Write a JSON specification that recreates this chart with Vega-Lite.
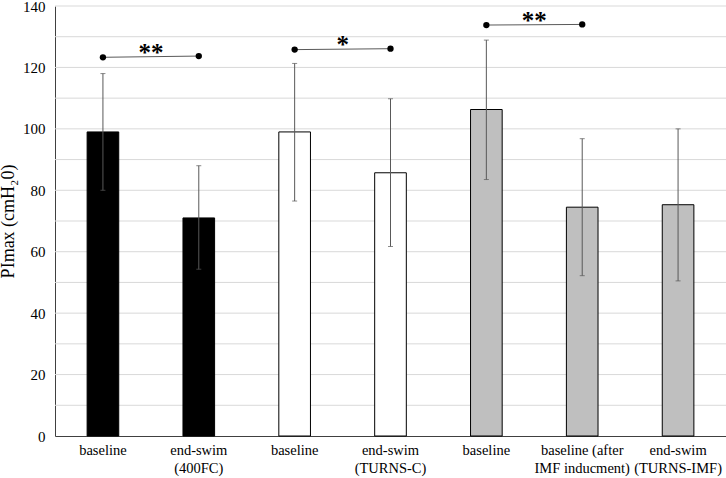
{
  "$schema": "https://vega.github.io/schema/vega-lite/v6.json",
  "width": 671,
  "height": 430,
  "autosize": "none",
  "padding": {"left": 55, "top": 6, "right": 0, "bottom": 42},
  "background": "white",
  "config": {
    "font": "Liberation Serif",
    "view": {"stroke": null},
    "axis": {"labelFont": "Liberation Serif", "titleFont": "Liberation Serif", "labelColor": "#000", "titleColor": "#000"},
    "axisQuantitative": {"tickCount": 14, "labelOverlap": false, "labelSeparation": 0}
  },
  "datasets": {
    "bars": [
      {"cat": "1:baseline", "grp": "400FC", "mean": 99, "lo": 80, "hi": 118},
      {"cat": "2:end-swim|(400FC)", "grp": "400FC", "mean": 71, "lo": 54.3, "hi": 88},
      {"cat": "3:baseline", "grp": "TURNS-C", "mean": 99, "lo": 76.5, "hi": 121.3},
      {"cat": "4:end-swim|(TURNS-C)", "grp": "TURNS-C", "mean": 85.7, "lo": 61.7, "hi": 109.8},
      {"cat": "5:baseline", "grp": "TURNS-IMF", "mean": 106.3, "lo": 83.5, "hi": 128.9},
      {"cat": "6:baseline (after|IMF inducment)", "grp": "TURNS-IMF", "mean": 74.5, "lo": 52.2, "hi": 96.8},
      {"cat": "7:end-swim|(TURNS-IMF)", "grp": "TURNS-IMF", "mean": 75.3, "lo": 50.5, "hi": 100}
    ],
    "sig": [
      {"pair": "a", "cat": "1:baseline", "y": 123.3},
      {"pair": "a", "cat": "2:end-swim|(400FC)", "y": 123.7},
      {"pair": "b", "cat": "3:baseline", "y": 125.8},
      {"pair": "b", "cat": "4:end-swim|(TURNS-C)", "y": 126.1},
      {"pair": "c", "cat": "5:baseline", "y": 133.8},
      {"pair": "c", "cat": "6:baseline (after|IMF inducment)", "y": 134}
    ],
    "stars": [
      {"cat": "1:baseline", "y": 123.5, "label": "**"},
      {"cat": "3:baseline", "y": 126, "label": "*"},
      {"cat": "5:baseline", "y": 133.9, "label": "**"}
    ],
    "grid": [
      {"v": 10}, {"v": 20}, {"v": 30}, {"v": 40}, {"v": 50}, {"v": 60}, {"v": 70},
      {"v": 80}, {"v": 90}, {"v": 100}, {"v": 110}, {"v": 120}, {"v": 130}, {"v": 140}
    ]
  },
  "layer": [
    {
      "data": {"name": "grid"},
      "mark": {"type": "rule", "color": "#d9d9d9", "strokeWidth": 1},
      "encoding": {
        "y": {
          "field": "v",
          "type": "quantitative",
          "title": "PImax (cmH₂0)",
          "scale": {"domain": [0, 140], "nice": false},
          "axis": {
            "values": {"expr": "sequence(0, 150, 10)"},
            "tickCount": {"expr": "14"},
            "labelOverlap": false,
            "labelSeparation": 0,
            "labelFontSize": 15,
            "labelPadding": 10,
            "ticks": false,
            "grid": false,
            "domainColor": "#404040",
            "titleFontSize": 18,
            "titleFontWeight": "normal",
            "titlePadding": 5
          }
        }
      }
    },
    {
      "data": {"name": "bars"},
      "mark": {"type": "bar", "stroke": "#000", "strokeWidth": 1},
      "encoding": {
        "x": {
          "field": "cat",
          "type": "nominal",
          "sort": null,
          "title": null,
          "scale": {
            "domain": ["1:baseline", "2:end-swim|(400FC)", "3:baseline", "4:end-swim|(TURNS-C)", "5:baseline", "6:baseline (after|IMF inducment)", "7:end-swim|(TURNS-IMF)"],
            "paddingInner": 0.67,
            "paddingOuter": 0.335
          },
          "axis": {
            "labelExpr": "split(slice(datum.value, 2), '|')",
            "labelAngle": 0,
            "labelFontSize": 14.5,
            "labelPadding": 7,
            "labelLineHeight": 18,
            "labelOverlap": false,
            "ticks": false,
            "domainColor": "#404040",
            "domainWidth": 1,
            "grid": false
          }
        },
        "y": {"field": "mean", "type": "quantitative"},
        "color": {
          "field": "grp",
          "type": "nominal",
          "scale": {"domain": ["400FC", "TURNS-C", "TURNS-IMF"], "range": ["#000000", "#ffffff", "#bfbfbf"]},
          "legend": null
        }
      }
    },
    {
      "data": {"name": "bars"},
      "mark": {"type": "rule", "color": "#595959", "strokeWidth": 1},
      "encoding": {
        "x": {"field": "cat", "type": "nominal", "sort": null},
        "y": {"field": "lo", "type": "quantitative"},
        "y2": {"field": "hi"}
      }
    },
    {
      "data": {"name": "bars"},
      "mark": {"type": "tick", "color": "#595959", "size": 5, "thickness": 1},
      "encoding": {
        "x": {"field": "cat", "type": "nominal", "sort": null},
        "y": {"field": "lo", "type": "quantitative"}
      }
    },
    {
      "data": {"name": "bars"},
      "mark": {"type": "tick", "color": "#595959", "size": 5, "thickness": 1},
      "encoding": {
        "x": {"field": "cat", "type": "nominal", "sort": null},
        "y": {"field": "hi", "type": "quantitative"}
      }
    },
    {
      "data": {"name": "sig"},
      "mark": {"type": "line", "color": "#595959", "strokeWidth": 1},
      "encoding": {
        "x": {"field": "cat", "type": "nominal", "sort": null},
        "y": {"field": "y", "type": "quantitative"},
        "detail": {"field": "pair"}
      }
    },
    {
      "data": {"name": "sig"},
      "mark": {"type": "point", "filled": true, "color": "#000", "size": 40, "opacity": 1},
      "encoding": {
        "x": {"field": "cat", "type": "nominal", "sort": null},
        "y": {"field": "y", "type": "quantitative"}
      }
    },
    {
      "data": {"name": "stars"},
      "mark": {"type": "text", "fontSize": 25, "fontWeight": "bold", "dx": 48, "dy": 4, "baseline": "alphabetic", "align": "center"},
      "encoding": {
        "x": {"field": "cat", "type": "nominal", "sort": null},
        "y": {"field": "y", "type": "quantitative"},
        "text": {"field": "label"}
      }
    }
  ]
}
